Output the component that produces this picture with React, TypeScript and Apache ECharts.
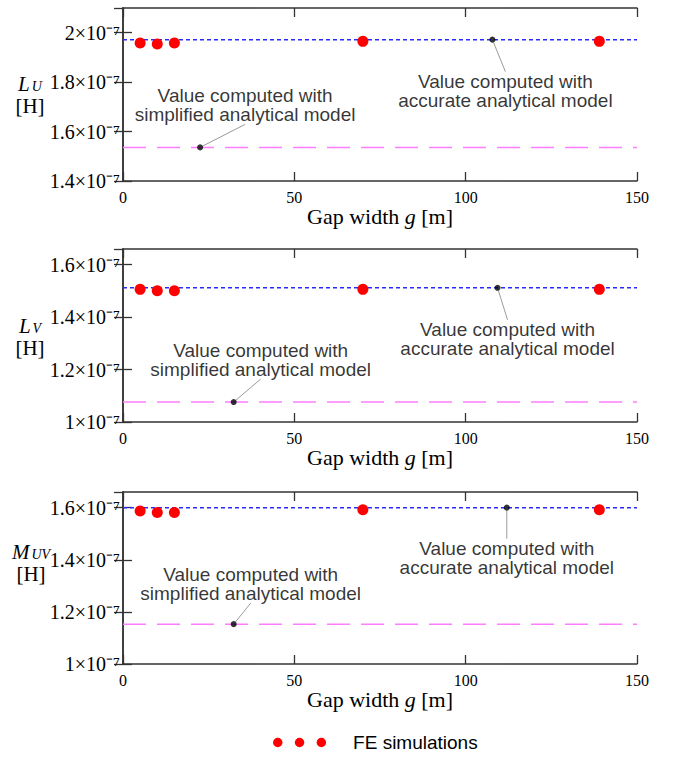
import React, { useEffect, useRef } from 'react';
import * as echarts from 'echarts';

// ---- data (inductance values in units of 1e-7 H) ----
const gapFE = [5, 10, 15, 70, 139];
const feLU = [1.958, 1.954, 1.958, 1.965, 1.965];
const feLV = [1.506, 1.501, 1.501, 1.506, 1.506];
const feMUV = [1.587, 1.581, 1.581, 1.592, 1.592];
const accurateValue = [1.972, 1.512, 1.6];
const simplifiedValue = [1.536, 1.076, 1.153];
const accurateGap = [107.8, 109.3, 112.0];
const simplifiedGap = [22.5, 32.3, 32.3];
const yMin = [1.4, 1.0, 1.0];
const yMax = [2.1, 1.66, 1.66];
const yStep = 0.2;
const xRange = [0, 150];
const xStep = 50;
const yNames = [
  ['L', 'U'],
  ['L', 'V'],
  ['M', 'UV'],
];
const feName = 'FE simulations';
const accText = 'Value computed with\naccurate analytical model';
const simpText = 'Value computed with\nsimplified analytical model';

// ---- layout ----
const SERIF = 'Liberation Serif';
const SANS = 'Liberation Sans';
const gridLayout = [
  { top: 8, height: 173 },
  { top: 249, height: 173 },
  { top: 492, height: 172 },
];
const accOffset = [
  { dx: 13, dy: 29 },
  { dx: 10, dy: 29 },
  { dx: 0, dy: 28 },
];
const simpOffset = [
  { dx: 45, dy: -20 },
  { dx: 27, dy: -20 },
  { dx: 17, dy: -18 },
];
const yNamePos = [
  { x: 30, y: 95 },
  { x: 30, y: 337 },
  { x: 31, y: 563 },
];

const AXIS_COLOR = '#333';
const BLUE = '#2a2aff';
const MAGENTA = '#ff7dff';
const RED = '#ff0000';

export default function App() {
  const ref = useRef<HTMLDivElement>(null);
  useEffect(() => {
    const chart = echarts.init(ref.current!, null, { renderer: 'svg' });
    const feSets = [feLU, feLV, feMUV];

    const grid: any[] = [];
    const xAxis: any[] = [];
    const yAxis: any[] = [];
    const series: any[] = [];
    const graphic: any[] = [];

    const axisLine = { show: true, lineStyle: { color: AXIS_COLOR, width: 1.5 } };
    const axisTick = { show: true, inside: true, length: 9, lineStyle: { color: AXIS_COLOR, width: 1.3 } };

    for (let i = 0; i < 3; i++) {
      grid.push({ left: 123, width: 514, top: gridLayout[i].top, height: gridLayout[i].height, containLabel: false });
      xAxis.push({
        type: 'value', gridIndex: i, position: 'bottom', min: xRange[0], max: xRange[1], interval: xStep,
        axisLine, axisTick, splitLine: { show: false },
        axisLabel: { fontFamily: SERIF, fontSize: 16, color: '#000', margin: 8 },
        name: 'Gap width {i|g} [m]', nameLocation: 'middle', nameGap: 19,
        nameTextStyle: {
          fontFamily: SERIF, fontSize: 22, color: '#000', verticalAlign: 'top',
          rich: { i: { fontFamily: SERIF, fontSize: 22, fontStyle: 'italic', color: '#000' } },
        },
      });
      xAxis.push({
        type: 'value', gridIndex: i, position: 'top', min: xRange[0], max: xRange[1], interval: xStep,
        axisLine, axisTick, splitLine: { show: false }, axisLabel: { show: false },
      });
      yAxis.push({
        type: 'value', gridIndex: i, position: 'left', min: yMin[i], max: yMax[i], interval: yStep,
        axisLine, axisTick, splitLine: { show: false },
        axisLabel: {
          show: true, showMaxLabel: false, margin: 3,
          fontFamily: SERIF, fontSize: 20, color: '#000',
          padding: [7, 0, 0, 0],
          formatter: (v: number) => {
            const k = v / yStep;
            if (Math.abs(k - Math.round(k)) > 1e-6) return '';
            const m = Math.round(v * 10) / 10;
            return `${m}×10⁻⁷`;
          },
        },
      });
      yAxis.push({
        type: 'value', gridIndex: i, position: 'right', min: yMin[i], max: yMax[i], interval: yStep,
        axisLine, axisTick, splitLine: { show: false }, axisLabel: { show: false },
      });

      const xi = 2 * i;
      const yi = 2 * i;
      series.push({
        type: 'line', xAxisIndex: xi, yAxisIndex: yi, symbol: 'none', silent: true, z: 2,
        data: [[xRange[0], accurateValue[i]], [xRange[1], accurateValue[i]]],
        lineStyle: { color: BLUE, width: 1.5, type: [4, 3] },
      });
      series.push({
        type: 'line', xAxisIndex: xi, yAxisIndex: yi, symbol: 'none', silent: true, z: 2,
        data: [[xRange[0], simplifiedValue[i]], [xRange[1], simplifiedValue[i]]],
        lineStyle: { color: MAGENTA, width: 1.5, type: [23, 11] },
      });
      series.push({
        name: feName, type: 'scatter', xAxisIndex: xi, yAxisIndex: yi, symbolSize: 11, z: 4,
        itemStyle: { color: RED, opacity: 1 },
        data: gapFE.map((g, j) => [g, feSets[i][j]]),
      });
      const labelBase = {
        show: true, color: '#000', fontFamily: SANS, fontSize: 19, lineHeight: 19, align: 'center', distance: 0,
      };
      const guide = { show: true, lineStyle: { color: '#808080', width: 0.8 } };
      series.push({
        type: 'scatter', xAxisIndex: xi, yAxisIndex: yi, symbolSize: 6, z: 5,
        itemStyle: { color: '#000' },
        data: [[accurateGap[i], accurateValue[i]]],
        label: { ...labelBase, position: 'bottom', formatter: accText },
        labelLine: guide,
        labelLayout: { dx: accOffset[i].dx, dy: accOffset[i].dy },
      });
      series.push({
        type: 'scatter', xAxisIndex: xi, yAxisIndex: yi, symbolSize: 6, z: 5,
        itemStyle: { color: '#000' },
        data: [[simplifiedGap[i], simplifiedValue[i]]],
        label: { ...labelBase, position: 'top', formatter: simpText },
        labelLine: guide,
        labelLayout: { dx: simpOffset[i].dx, dy: simpOffset[i].dy },
      });

      const [main, sub] = yNames[i];
      const p = yNamePos[i];
      graphic.push({
        type: 'text', x: p.x, y: p.y,
        style: {
          text: `{v|${main}}{s|${sub}}\n{h|[H]}`, align: 'center', verticalAlign: 'middle',
          rich: {
            v: { fontFamily: SERIF, fontSize: 21, fontStyle: 'italic', fill: '#000', lineHeight: 22 },
            s: { fontFamily: SERIF, fontSize: 14, fontStyle: 'italic', fill: '#000', lineHeight: 14, padding: [4, 0, 0, 2] },
            h: { fontFamily: SERIF, fontSize: 21, fill: '#000', lineHeight: 22 },
          },
        },
      });
    }

    const r = 4.75;
    const dots = [r, r + 21.8, r + 43.6]
      .map((c) => `M${c - r},${r}A${r},${r} 0 1,0 ${c + r},${r}A${r},${r} 0 1,0 ${c - r},${r}Z`)
      .join('');

    chart.setOption({
      animation: false,
      backgroundColor: '#fff',
      grid,
      xAxis,
      yAxis,
      series,
      graphic,
      legend: {
        data: [feName],
        left: 273,
        top: 733,
        padding: 0,
        icon: 'path://' + dots,
        itemWidth: 53.1,
        itemHeight: 9.5,
        formatter: (name: string) => `{g|}${name}`,
        textStyle: { fontFamily: SANS, fontSize: 19, color: '#000', rich: { g: { width: 22 } } },
      },
    });
    return () => chart.dispose();
  }, []);
  return <div ref={ref} style={{ position: 'absolute', left: 0, top: 0, width: 680, height: 758 }} />;
}
